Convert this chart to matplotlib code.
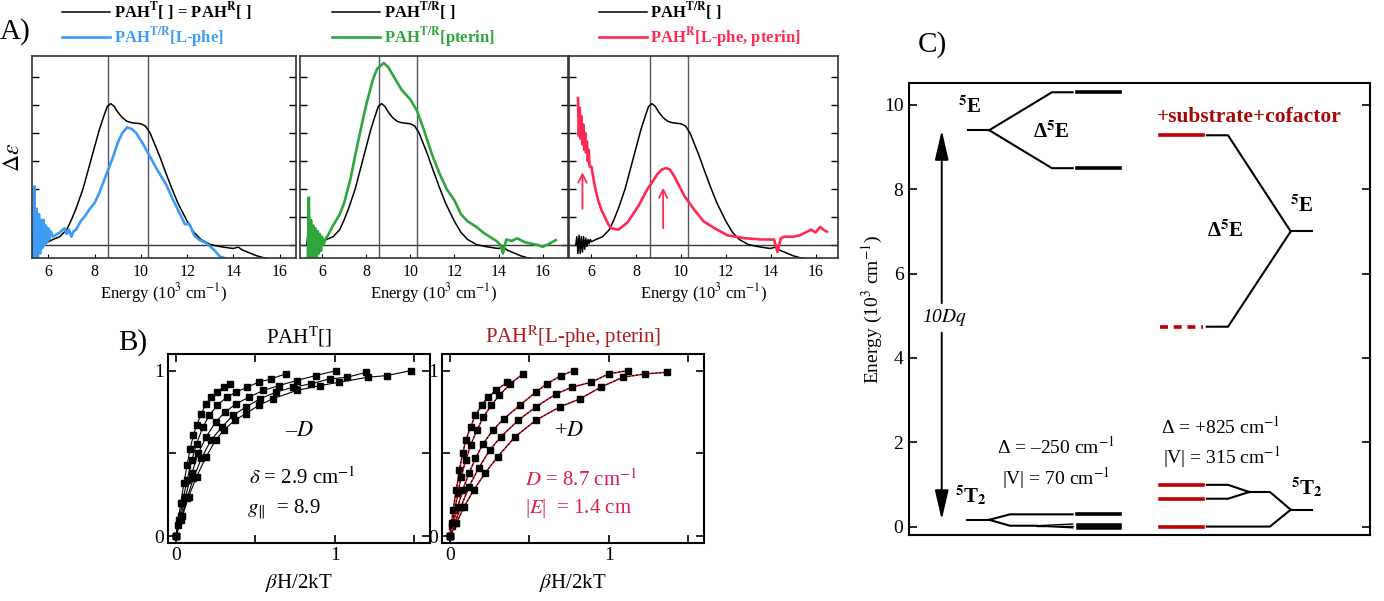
import matplotlib
matplotlib.use("Agg")
import matplotlib.pyplot as plt

plt.rcParams['font.family'] = 'serif'
plt.rcParams['font.serif'] = ['Liberation Serif', 'DejaVu Serif']
plt.rcParams['mathtext.fontset'] = 'stix'

# ---------------- Panel A data (energy in 10^3 cm-1, delta-epsilon in arb. units)
black_x = [5.30, 5.35, 5.40, 5.45, 5.50, 5.55, 5.60, 5.65, 5.70, 5.75, 5.80, 5.85, 5.90,
           5.95, 6.0, 6.2, 6.5, 6.8, 7.0, 7.2, 7.5, 7.8, 8.0, 8.2,
           8.4, 8.55, 8.7, 8.85, 9.0, 9.2, 9.4, 9.6, 9.8, 10.0, 10.2, 10.4, 10.6, 10.8,
           11.0, 11.3, 11.6, 12.0, 12.3, 12.6, 13.0, 13.4, 13.8, 14.0, 14.2, 14.4, 14.7,
           15.0, 15.3, 15.5]
black_y = [0.0, 0.3, -0.3, 0.35, -0.3, 0.3, -0.25, 0.3, -0.15, 0.25, -0.05, 0.2, 0.05,
           0.2, 0.12, 0.2, 0.3, 0.55, 0.9, 1.3, 2.0, 2.9, 3.5, 4.1,
           4.6, 4.95, 5.05, 4.95, 4.75, 4.55, 4.42, 4.37, 4.35, 4.33, 4.25, 4.0, 3.6, 3.2,
           2.75, 2.1, 1.5, 0.85, 0.45, 0.2, 0.02, -0.05, -0.1, -0.12, -0.07, -0.18, -0.28,
           -0.38, -0.45, -0.47]

blue_x = [5.35, 5.40, 5.45, 5.50, 5.55, 5.60, 5.65, 5.70, 5.75, 5.80, 5.85, 5.90, 5.95,
          6.0, 6.05, 6.1, 6.2, 6.3, 6.5, 6.7, 6.8, 6.9, 7.0, 7.1, 7.2, 7.4, 7.6, 7.8, 8.0,
          8.2, 8.5, 8.8, 9.0, 9.2, 9.4, 9.6, 9.8, 10.1, 10.4, 10.7, 11.1, 11.4, 11.7,
          11.9, 12.1, 12.3, 12.5, 12.8, 13.0, 13.2, 13.4, 13.6]
blue_y = [-0.4, 2.1, -0.5, 1.3, -0.45, 1.1, -0.3, 0.9, -0.1, 0.9, 0.0, 0.7, 0.1, 0.6,
          0.2, 0.5, 0.3, 0.35, 0.45, 0.6, 0.4, 0.55, 0.3, 0.5, 0.55, 0.85, 1.05, 1.3,
          1.5, 1.85, 2.5, 3.15, 3.65, 4.0, 4.2, 4.15, 4.0, 3.6, 3.15, 2.7, 2.15, 1.6, 1.1,
          0.75, 0.75, 0.35, 0.2, 0.08, -0.05, -0.2, -0.4, -0.46]

green_x = [5.35, 5.40, 5.45, 5.50, 5.55, 5.60, 5.65, 5.70, 5.75, 5.80, 5.85, 5.90, 5.95,
           6.0, 6.05, 6.15, 6.3, 6.5, 6.8, 7.0, 7.3, 7.5, 7.8, 8.0, 8.3, 8.5, 8.8,
           9.0, 9.3, 9.6, 10.0, 10.3, 10.6, 11.0, 11.3, 11.65, 12.0, 12.3, 12.6, 13.0,
           13.3, 13.6, 13.9, 14.1, 14.2, 14.35, 14.6, 14.85, 15.2, 15.5, 15.8, 16.0,
           16.3, 16.6]
green_y = [-0.5, 1.7, -0.5, 0.9, -0.5, 0.7, -0.5, 0.6, -0.45, 0.5, -0.3, 0.4, -0.2,
           0.3, 0.0, 0.2, 0.4, 0.7, 1.1, 1.5, 2.4, 3.2, 4.3, 5.0, 5.9, 6.3, 6.5, 6.35,
           5.95, 5.55, 5.2, 4.8, 4.15, 3.2, 2.6, 2.0, 1.6, 1.1, 0.85, 0.65, 0.45, 0.3,
           0.15, 0.0, -0.3, 0.2, 0.15, 0.24, 0.1, 0.05, 0.0, -0.06, 0.05, 0.18]

red_x = [5.4, 5.44, 5.48, 5.52, 5.56, 5.60, 5.64, 5.68, 5.72, 5.76, 5.80, 5.84, 5.88,
         5.92, 6.0, 6.15, 6.3, 6.45, 6.6, 6.75, 6.9, 7.2, 7.6, 8.1, 8.5, 8.96, 9.15, 9.33,
         9.5, 9.7, 10.15, 10.6, 11.0, 11.5, 12.07, 12.8, 13.55, 14.15, 14.3, 14.45, 14.6,
         15.0, 15.3, 15.8, 16.0, 16.2, 16.35, 16.5]
red_y = [5.25, 3.9, 4.9, 3.8, 4.6, 3.6, 4.3, 3.4, 4.0, 3.3, 3.7, 3.0, 3.4, 2.8, 2.8,
         2.1, 1.6, 1.25, 1.0, 0.75, 0.6, 0.55, 0.8, 1.4, 2.0, 2.55, 2.7, 2.75, 2.7, 2.45,
         1.75, 1.25, 0.85, 0.6, 0.35, 0.25, 0.2, 0.2, -0.25, 0.25, 0.3, 0.3, 0.35, 0.55,
         0.45, 0.65, 0.55, 0.48]

band_lines = [8.6, 10.3]
red_arrows_x = [5.6, 9.2]
red_arrows_from = [1.3, 0.6]
red_arrows_to = [2.6, 2.05]

# ---------------- Panel B data (betaH/2kT, normalized MCD)
b1_x = [
    [0, 0.01, 0.03, 0.05, 0.07, 0.09, 0.11, 0.13, 0.16, 0.19, 0.22, 0.26, 0.30, 0.34],
    [0, 0.02, 0.04, 0.07, 0.1, 0.13, 0.17, 0.21, 0.26, 0.32, 0.38, 0.45, 0.52, 0.6, 0.69],
    [0, 0.03, 0.06, 0.1, 0.14, 0.19, 0.25, 0.31, 0.38, 0.46, 0.55, 0.65, 0.76, 0.88, 1.01],
    [0, 0.03, 0.07, 0.11, 0.16, 0.22, 0.29, 0.36, 0.44, 0.53, 0.63, 0.74, 0.85, 0.97, 1.08, 1.2],
    [0, 0.04, 0.08, 0.13, 0.19, 0.25, 0.30, 0.37, 0.44, 0.52, 0.61, 0.76, 0.91, 1.03, 1.21, 1.33, 1.48],
]
b1_y = [
    [0, 0.07, 0.2, 0.32, 0.43, 0.53, 0.61, 0.67, 0.74, 0.8, 0.84, 0.87, 0.9, 0.92],
    [0, 0.1, 0.2, 0.34, 0.46, 0.56, 0.66, 0.73, 0.79, 0.84, 0.87, 0.9, 0.93, 0.95, 0.98],
    [0, 0.12, 0.24, 0.38, 0.5, 0.6, 0.69, 0.75, 0.8, 0.84, 0.88, 0.91, 0.94, 0.97, 1.0],
    [0, 0.1, 0.23, 0.35, 0.47, 0.58, 0.66, 0.73, 0.78, 0.83, 0.87, 0.9, 0.92, 0.95, 0.96, 0.99],
    [0, 0.12, 0.24, 0.36, 0.48, 0.58, 0.64, 0.7, 0.74, 0.79, 0.83, 0.88, 0.91, 0.93, 0.96, 0.97, 1.0],
]
b2_x = [
    [0, 0.01, 0.02, 0.04, 0.06, 0.08, 0.10, 0.13, 0.16, 0.2, 0.24, 0.29, 0.36],
    [0, 0.01, 0.03, 0.05, 0.07, 0.1, 0.13, 0.17, 0.21, 0.26, 0.31, 0.38, 0.46],
    [0, 0.02, 0.05, 0.08, 0.12, 0.16, 0.21, 0.27, 0.34, 0.44, 0.54, 0.61, 0.7, 0.78],
    [0, 0.03, 0.07, 0.12, 0.18, 0.25, 0.32, 0.43, 0.54, 0.67, 0.77, 0.89, 1.0, 1.12],
    [0, 0.04, 0.09, 0.15, 0.22, 0.3, 0.41, 0.54, 0.69, 0.82, 0.95, 1.09, 1.23, 1.37],
]
b2_y = [
    [0, 0.08, 0.16, 0.28, 0.4, 0.5, 0.58, 0.66, 0.73, 0.79, 0.84, 0.88, 0.93],
    [0, 0.06, 0.16, 0.26, 0.36, 0.46, 0.55, 0.64, 0.72, 0.79, 0.85, 0.92, 0.98],
    [0, 0.08, 0.18, 0.28, 0.38, 0.47, 0.56, 0.64, 0.71, 0.79, 0.87, 0.92, 0.97, 1.0],
    [0, 0.08, 0.18, 0.3, 0.41, 0.52, 0.6, 0.7, 0.78, 0.86, 0.9, 0.93, 0.98, 1.0],
    [0, 0.08, 0.18, 0.28, 0.38, 0.48, 0.6, 0.7, 0.78, 0.83, 0.9, 0.96, 0.98, 0.99],
]

# ---------------- Panel C data (energies in 10^3 cm-1)
e5_left = 9.4
e5_left_split = [10.3, 8.5]
t2_left = 0.16
t2_left_split = [0.29, 0.02]
t2_left_fine = [0.06, 0.02, -0.03]
e5_right = 7.0
e5_right_split = [9.28, 4.74]
t2_right = 0.40
t2_right_pair = 0.82
t2_right_levels = [0.99, 0.66, 0.0]

BLUE = '#3d9cf5'
GREEN = '#2fa63c'
RED = '#ff2a52'
LINEGRAY = '#55556a'

fig = plt.figure(figsize=(13.84, 6.01), dpi=100)
W, H = 1384.0, 601.0


def add_axes_px(left, top, right, bottom):
    return fig.add_axes([left / W, 1 - bottom / H, (right - left) / W, (bottom - top) / H])


def style_a(ax, xlim):
    ax.set_xlim(*xlim)
    ax.set_ylim(-0.46, 6.75)
    ax.set_xticks([6, 8, 10, 12, 14, 16])
    ax.set_yticks([0, 1, 2, 3, 4, 5, 6])
    ax.set_yticklabels([])
    ax.tick_params(axis='y', direction='in', left=True, right=True, length=5, width=1)
    ax.tick_params(axis='x', direction='in', length=3, labelsize=11.5, pad=4)
    for s in ax.spines.values():
        s.set_linewidth(1.2)
        s.set_color('#333333')
    ax.axhline(0, color='#333333', lw=1.0)
    for xv in band_lines:
        ax.axvline(xv, color=LINEGRAY, lw=1.0)
    ax.set_xlabel('Energy (10$^3$ cm$^{-1}$)', fontsize=12, labelpad=1)


legend_kw = dict(loc='lower left', frameon=False, handlelength=2.9, handletextpad=0.2,
                 labelspacing=0.12, borderaxespad=0, borderpad=0, labelcolor='linecolor',
                 prop={'weight': 'bold', 'size': 12, 'family': 'serif'})

# A1
ax1 = add_axes_px(32, 56, 296, 258)
style_a(ax1, (5.3, 16.7))
l1, = ax1.plot(black_x, black_y, color='black', lw=1.1)
l2, = ax1.plot(blue_x, blue_y, color=BLUE, lw=1.9)
ax1.set_ylabel(r'$\Delta\varepsilon$', fontsize=17, labelpad=2)
ax1.legend([l1, l2], [r'PAH$^{\mathbf{T}}$[ ] = PAH$^{\mathbf{R}}$[ ]', r'PAH$^{\mathbf{T/R}}$[L-phe]'],
           bbox_to_anchor=(0.114, 1.03), **legend_kw)

# A2
ax2 = add_axes_px(300, 56, 568, 258)
style_a(ax2, (5.0, 17.15))
l1, = ax2.plot(black_x, black_y, color='black', lw=1.1)
l2, = ax2.plot(green_x, green_y, color=GREEN, lw=1.9)
ax2.legend([l1, l2], [r'PAH$^{\mathbf{T/R}}$[ ]', r'PAH$^{\mathbf{T/R}}$[pterin]'],
           bbox_to_anchor=(0.12, 1.03), **legend_kw)

# A3
ax3 = add_axes_px(569, 56, 838, 258)
style_a(ax3, (5.0, 17.0))
l1, = ax3.plot(black_x, black_y, color='black', lw=1.1)
l2, = ax3.plot(red_x, red_y, color=RED, lw=1.9)
for xa, y0, y1 in zip(red_arrows_x, red_arrows_from, red_arrows_to):
    ax3.annotate('', xy=(xa, y1), xytext=(xa, y0),
                 arrowprops=dict(arrowstyle='->,head_length=0.6,head_width=0.3', color=RED,
                                 lw=1.3, shrinkA=0, shrinkB=0))
ax3.legend([l1, l2], [r'PAH$^{\mathbf{T/R}}$[ ]', r'PAH$^{\mathbf{R}}$[L-phe, pterin]'],
           bbox_to_anchor=(0.11, 1.03), **legend_kw)

fig.text(0.0 / W, 1 - 32 / H, 'A)', fontsize=21, va='center', ha='left')
fig.text(118 / W, 1 - 343 / H, 'B)', fontsize=21, va='center', ha='left')
fig.text(918 / W, 1 - 45 / H, 'C)', fontsize=21, va='center', ha='left')


def style_b(ax):
    ax.set_xlim(-0.05, 1.6)
    ax.set_ylim(-0.04, 1.1)
    ax.set_xticks([0, 0.5, 1, 1.5])
    ax.set_xticklabels(['0', '', '1', ''])
    ax.set_yticks([0, 0.5, 1])
    ax.set_yticklabels(['0', '', '1'])
    ax.tick_params(direction='in', top=True, right=True, length=6, width=1.2,
                   labelsize=14, pad=3)
    for s in ax.spines.values():
        s.set_linewidth(1.5)
    ax.set_xlabel(r'$\beta$H/2kT', fontsize=15, labelpad=6)


# B1
bx1 = add_axes_px(168, 354, 430, 543)
style_b(bx1)
for xs, ys in zip(b1_x, b1_y):
    bx1.plot(xs, ys, color='black', lw=0.8, marker='s', ms=3.8)
bx1.set_title(r'PAH$^{\mathrm{T}}$[]', fontsize=15, pad=8)
bx1.text(0.78, 0.63, r'–$D$', fontsize=16, ha='center', va='center')
bx1.text(0.46, 0.35, r'$\delta$ = 2.9 cm$^{-1}$', fontsize=15, ha='left', va='center')
bx1.text(0.45, 0.16, r'$g_{\|}$  = 8.9', fontsize=15, ha='left', va='center')

# B2
bx2 = add_axes_px(442, 354, 704, 543)
style_b(bx2)
for xs, ys in zip(b2_x, b2_y):
    bx2.plot(xs, ys, color='#d0121e', lw=1.1)
    bx2.plot(xs, ys, color='black', lw=0.7, ls=(0, (2, 2)), marker='s', ms=3.8)
bx2.set_title(r'PAH$^{\mathrm{R}}$[L-phe, pterin]', fontsize=15, pad=8, color='#b01818')
bx2.text(0.75, 0.63, r'+$D$', fontsize=16, ha='center', va='center')
bx2.text(0.47, 0.34, r'$D$ = 8.7 cm$^{-1}$', fontsize=15, ha='left', va='center', color='#dc2048')
bx2.text(0.47, 0.17, r'|$E$|  = 1.4 cm', fontsize=15, ha='left', va='center', color='#dc2048')

# C energy level diagram (x is just horizontal layout in 0..100)
cx = add_axes_px(909, 83, 1370, 535)
cx.set_xlim(0, 100)
cx.set_ylim(-0.2, 10.52)
cx.set_xticks([])
cx.set_yticks([0, 2, 4, 6, 8, 10])
cx.tick_params(axis='y', direction='in', left=True, right=True, length=6, width=1.2,
               labelsize=14, pad=4)
for s in cx.spines.values():
    s.set_linewidth(1.5)
cx.set_ylabel('Energy (10$^3$ cm$^{-1}$)', fontsize=14, labelpad=-1)

lw_thin, lw_thick = 1.5, 2.6
k = 'black'
# left 5E
cx.plot([12.8, 17.4], [e5_left, e5_left], color=k, lw=lw_thin)
for e in e5_left_split:
    cx.plot([17.4, 31.0, 35.5], [e5_left, e, e], color=k, lw=lw_thin)
    cx.plot([36.4, 45.8], [e, e], color=k, lw=lw_thick)
# left 5T2
cx.plot([12.6, 17.4], [t2_left, t2_left], color=k, lw=lw_thin)
cx.plot([17.4, 21.9, 35.5], [t2_left, t2_left_split[0], t2_left_split[0]], color=k, lw=lw_thin)
cx.plot([17.4, 21.9, 27.7], [t2_left, t2_left_split[1], t2_left_split[1]], color=k, lw=lw_thin)
for e in t2_left_fine:
    cx.plot([27.7, 35.5], [t2_left_split[1], e], color=k, lw=1.0)
    cx.plot([36.4, 45.8], [e, e], color=k, lw=1.8)
cx.plot([36.4, 45.8], [t2_left_split[0], t2_left_split[0]], color=k, lw=lw_thick)

# right 5E
cx.plot([54.4, 63.8], [e5_right_split[0]] * 2, color='#c00000', lw=lw_thick)
cx.plot([54.4, 63.8], [e5_right_split[1]] * 2, color='#c00000', lw=lw_thick, ls=(0, (2.2, 1.6)))
for e in e5_right_split:
    cx.plot([64.6, 69.2, 82.8], [e, e, e5_right], color=k, lw=lw_thin)
cx.plot([82.8, 87.4], [e5_right, e5_right], color=k, lw=lw_thin)
# right 5T2
for e in t2_right_levels:
    cx.plot([54.4, 63.8], [e, e], color='#c00000', lw=lw_thick)
for e in t2_right_levels[:2]:
    cx.plot([64.6, 69.2, 73.8], [e, e, t2_right_pair], color=k, lw=lw_thin)
cx.plot([73.8, 78.3, 82.8], [t2_right_pair, t2_right_pair, t2_right], color=k, lw=lw_thin)
cx.plot([64.6, 78.3, 82.8], [t2_right_levels[2], t2_right_levels[2], t2_right], color=k, lw=lw_thin)
cx.plot([82.8, 87.4], [t2_right, t2_right], color=k, lw=lw_thin)

# 10Dq arrow
arrow_kw = dict(arrowstyle='-|>,head_length=1.3,head_width=0.3', color='black', lw=1.4,
                shrinkA=0, shrinkB=0, mutation_scale=14)
cx.annotate('', xy=(7.1, e5_left), xytext=(7.1, 5.3), arrowprops=arrow_kw)
cx.annotate('', xy=(7.1, t2_left), xytext=(7.1, 4.6), arrowprops=arrow_kw)
cx.text(7.8, 4.95, '10$Dq$', fontsize=14, ha='center', va='center', style='italic')

bold = dict(fontsize=15, fontweight='bold', ha='center', va='center')
cx.text(13.2, 9.95, r'$^{\mathbf{5}}$E', **bold)
cx.text(30.8, 9.35, r'Δ$^{\mathbf{5}}$E', **bold)
cx.text(85.2, 7.6, r'$^{\mathbf{5}}$E', **bold)
cx.text(68.5, 7.0, r'Δ$^{\mathbf{5}}$E', **bold)
cx.text(13.4, 0.72, r'$^{\mathbf{5}}$T$_{\mathbf{2}}$', **bold)
cx.text(86.3, 0.92, r'$^{\mathbf{5}}$T$_{\mathbf{2}}$', **bold)
cx.text(73.8, 9.72, '+substrate+cofactor', fontsize=15.5, fontweight='bold', color='#a80808',
        ha='center', va='center')
cx.text(31.9, 1.9, 'Δ = –250 cm$^{-1}$', fontsize=14, ha='center', va='center')
cx.text(31.9, 1.16, '|V| = 70 cm$^{-1}$', fontsize=14, ha='center', va='center')
cx.text(67.7, 2.37, 'Δ = +825 cm$^{-1}$', fontsize=14, ha='center', va='center')
cx.text(67.9, 1.66, '|V| = 315 cm$^{-1}$', fontsize=14, ha='center', va='center')

fig.savefig('out.png', dpi=100)
